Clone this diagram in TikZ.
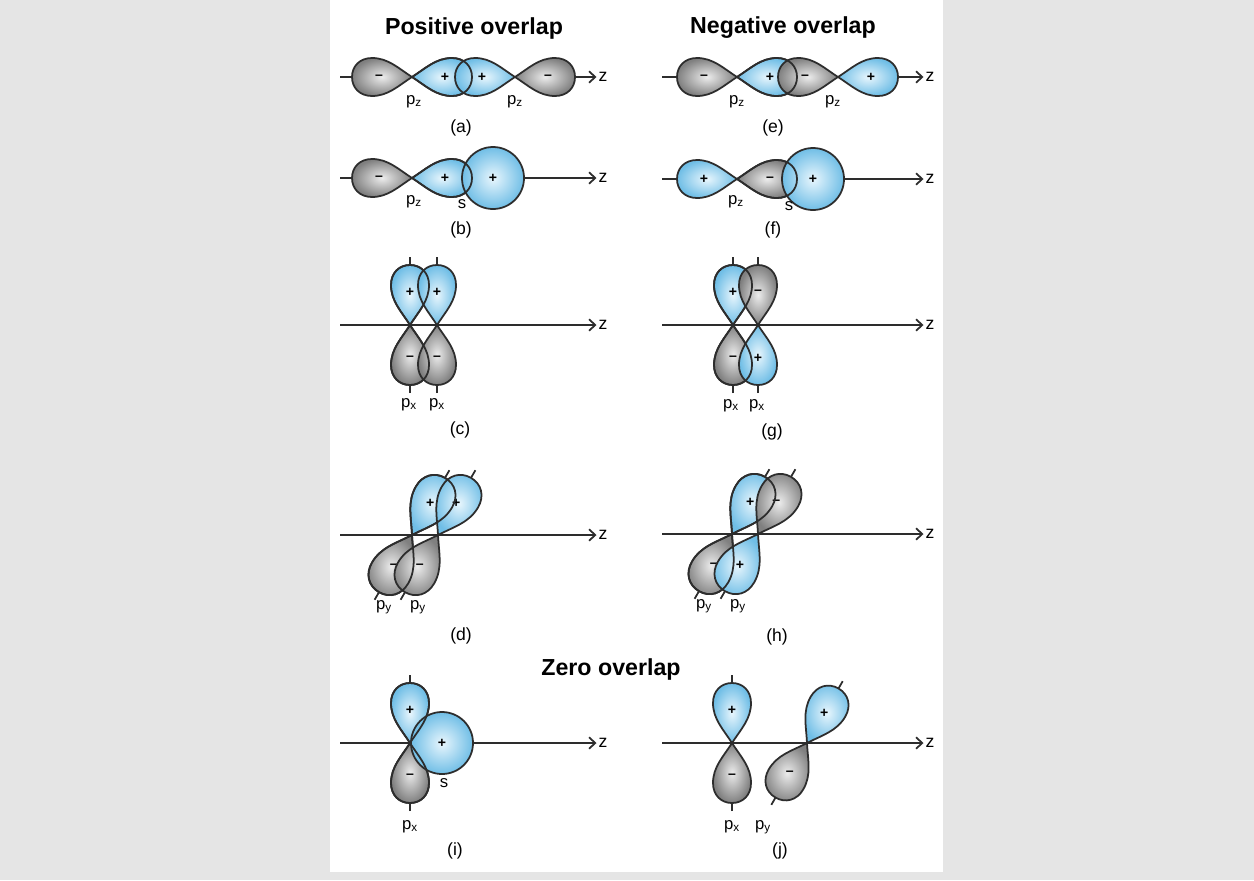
\documentclass[tikz,border=0pt]{standalone}
\usepackage{fontspec}
\setmainfont{Liberation Sans}
\usetikzlibrary{arrows.meta}

\definecolor{pagegray}{RGB}{229,229,229}
\definecolor{edgegray}{RGB}{45,45,45}
\definecolor{lobeblue}{RGB}{112,190,230}
\definecolor{lobepale}{RGB}{232,246,253}
\definecolor{lobegray}{RGB}{128,128,128}
\definecolor{lobelight}{RGB}{236,236,236}

\tikzstyle{edge} = [draw=edgegray, line width=1pt]
\tikzstyle{poslobe} = [edge, inner color=lobepale, outer color=lobeblue]
\tikzstyle{neglobe} = [edge, inner color=lobelight, outer color=lobegray]
\tikzstyle{axis} = [edge, -{Straight Barb[length=3.5pt, width=6.5pt]}]
\tikzstyle{sign} = [inner sep=0pt, font=\bfseries\fontsize{8}{8}\selectfont]
\tikzstyle{orb} = [inner sep=1pt, font=\fontsize{9.5}{10}\selectfont]
\tikzstyle{zlabel} = [inner sep=1pt, font=\fontsize{10}{10}\selectfont]
\tikzstyle{caption} = [font=\fontsize{10}{10}\selectfont]
\tikzstyle{heading} = [font=\bfseries\fontsize{13.2}{14}\selectfont]

% one lobe, tip at the origin, pointing along +x
\newcommand{\lobe}[1]{\draw[#1] (0,0) .. controls (14,9) and (24,19) .. (40,19)
  .. controls (52,19) and (60,11) .. (60,0)
  .. controls (60,-11) and (52,-19) .. (40,-19)
  .. controls (24,-19) and (14,-9) .. (0,0) -- cycle;}

% orbital axis sticking out of a p orbital
\newcommand{\stub}[4][1]{\draw[edge, shift={(#2,#3)}, rotate=#4, scale=#1] (-68,0) -- (68,0);}

% p orbital: + lobe along the angle, - lobe opposite
\newcommand{\porb}[4][1]{%
  \begin{scope}[shift={(#2,#3)}, rotate=#4, scale=#1]
    \lobe{poslobe}
    \lobe{neglobe, rotate=180}
    \node[sign] (plus#2x#3) at (33,0) {+};
    \node[sign] (minus#2x#3) at (-33,0) {--};
  \end{scope}}

\begin{document}
\begin{tikzpicture}[x=0.02cm, y=-0.02cm]
  \fill[pagegray] (0,0) rectangle (1254,880);
  \fill[white] (330,0) rectangle (943,872);
  \useasboundingbox (0,0) rectangle (1254,880);

  \node[heading] (poshead) at (474,28) {Positive overlap};
  \node[heading] (neghead) at (783,28) {Negative overlap};
  \node[heading] (zerohead) at (611,669) {Zero overlap};

  % (a) pz + pz
  \coordinate (a0) at (340,77);
  \node[zlabel] (za) at (603,77) {z};
  \draw[axis] (a0) -- (za);
  \porb{412}{77}{0}
  \porb{515}{77}{180}
  \lobe{edge, shift={(412,77)}}
  \node[orb] (a1) at (414,102) {p\textsubscript{z}};
  \node[orb] (a2) at (515,102) {p\textsubscript{z}};
  \node[caption] (capa) at (461,128) {(a)};

  % (b) pz + s
  \coordinate (b0) at (340,178);
  \node[zlabel] (zb) at (603,178) {z};
  \draw[axis] (b0) -- (zb);
  \porb{412}{178}{0}
  \draw[poslobe] (493,178) circle[radius=31];
  \node[sign] (splusb) at (493,178) {+};
  \lobe{edge, shift={(412,178)}}
  \node[orb] (b1) at (414,202) {p\textsubscript{z}};
  \node[orb] (b2) at (462,204) {s};
  \node[caption] (capb) at (461,230) {(b)};

  % (c) px + px
  \coordinate (c0) at (340,325);
  \node[zlabel] (zc) at (603,325) {z};
  \draw[axis] (c0) -- (zc);
  \stub{410}{325}{90}
  \stub{437}{325}{90}
  \porb{410}{325}{90}
  \porb{437}{325}{90}
  \lobe{edge, shift={(410,325)}, rotate=90}
  \lobe{edge, shift={(410,325)}, rotate=270}
  \node[orb] (c1) at (409,405) {p\textsubscript{x}};
  \node[orb] (c2) at (437,405) {p\textsubscript{x}};
  \node[caption] (capc) at (460,430) {(c)};

  % (d) py + py
  \coordinate (d0) at (340,535);
  \node[zlabel] (zd) at (603,535) {z};
  \draw[axis] (d0) -- (zd);
  \stub[1.1]{412}{535}{60}
  \stub[1.1]{438}{535}{60}
  \porb[1.1]{412}{535}{60}
  \porb[1.1]{438}{535}{60}
  \lobe{edge, shift={(412,535)}, rotate=60, scale=1.1}
  \lobe{edge, shift={(412,535)}, rotate=240, scale=1.1}
  \node[orb] (d1) at (384,607) {p\textsubscript{y}};
  \node[orb] (d2) at (418,607) {p\textsubscript{y}};
  \node[caption] (capd) at (461,636) {(d)};

  % (e) pz + pz
  \coordinate (e0) at (662,77);
  \node[zlabel] (ze) at (930,77) {z};
  \draw[axis] (e0) -- (ze);
  \porb{737}{77}{0}
  \porb{838}{77}{0}
  \lobe{edge, shift={(737,77)}}
  \node[orb] (e1) at (737,102) {p\textsubscript{z}};
  \node[orb] (e2) at (833,102) {p\textsubscript{z}};
  \node[caption] (cape) at (773,128) {(e)};

  % (f) pz + s
  \coordinate (f0) at (662,179);
  \node[zlabel] (zf) at (930,179) {z};
  \draw[axis] (f0) -- (zf);
  \porb{737}{179}{180}
  \draw[poslobe] (813,179) circle[radius=31];
  \node[sign] (splusf) at (813,179) {+};
  \lobe{edge, shift={(737,179)}}
  \node[orb] (f1) at (736,202) {p\textsubscript{z}};
  \node[orb] (f2) at (789,206) {s};
  \node[caption] (capf) at (773,230) {(f)};

  % (g) px + px
  \coordinate (g0) at (662,325);
  \node[zlabel] (zg) at (930,325) {z};
  \draw[axis] (g0) -- (zg);
  \stub{733}{325}{90}
  \stub{758}{325}{90}
  \porb{733}{325}{90}
  \porb{758}{325}{270}
  \lobe{edge, shift={(733,325)}, rotate=90}
  \lobe{edge, shift={(733,325)}, rotate=270}
  \node[orb] (g1) at (731,406) {p\textsubscript{x}};
  \node[orb] (g2) at (757,406) {p\textsubscript{x}};
  \node[caption] (capg) at (772,432) {(g)};

  % (h) py + py
  \coordinate (h0) at (662,534);
  \node[zlabel] (zh) at (930,534) {z};
  \draw[axis] (h0) -- (zh);
  \stub[1.1]{732}{534}{60}
  \stub[1.1]{758}{534}{60}
  \porb[1.1]{732}{534}{60}
  \porb[1.1]{758}{534}{240}
  \lobe{edge, shift={(732,534)}, rotate=60, scale=1.1}
  \lobe{edge, shift={(732,534)}, rotate=240, scale=1.1}
  \node[orb] (h1) at (704,606) {p\textsubscript{y}};
  \node[orb] (h2) at (738,606) {p\textsubscript{y}};
  \node[caption] (caph) at (777,637) {(h)};

  % (i) px + s
  \coordinate (i0) at (340,743);
  \node[zlabel] (zi) at (603,743) {z};
  \draw[axis] (i0) -- (zi);
  \stub{410}{743}{90}
  \porb{410}{743}{90}
  \draw[poslobe] (442,743) circle[radius=31];
  \node[sign] (splusi) at (442,743) {+};
  \lobe{edge, shift={(410,743)}, rotate=90}
  \lobe{edge, shift={(410,743)}, rotate=270}
  \node[orb] (i1) at (444,783) {s};
  \node[orb] (i2) at (410,827) {p\textsubscript{x}};
  \node[caption] (capi) at (455,851) {(i)};

  % (j) px + py
  \coordinate (j0) at (662,743);
  \node[zlabel] (zj) at (930,743) {z};
  \draw[axis] (j0) -- (zj);
  \stub{732}{743}{90}
  \stub[1.05]{807}{743}{60}
  \porb{732}{743}{90}
  \porb[1.05]{807}{743}{60}
  \node[orb] (j1) at (732,827) {p\textsubscript{x}};
  \node[orb] (j2) at (763,827) {p\textsubscript{y}};
  \node[caption] (capj) at (780,851) {(j)};
\end{tikzpicture}
\end{document}
